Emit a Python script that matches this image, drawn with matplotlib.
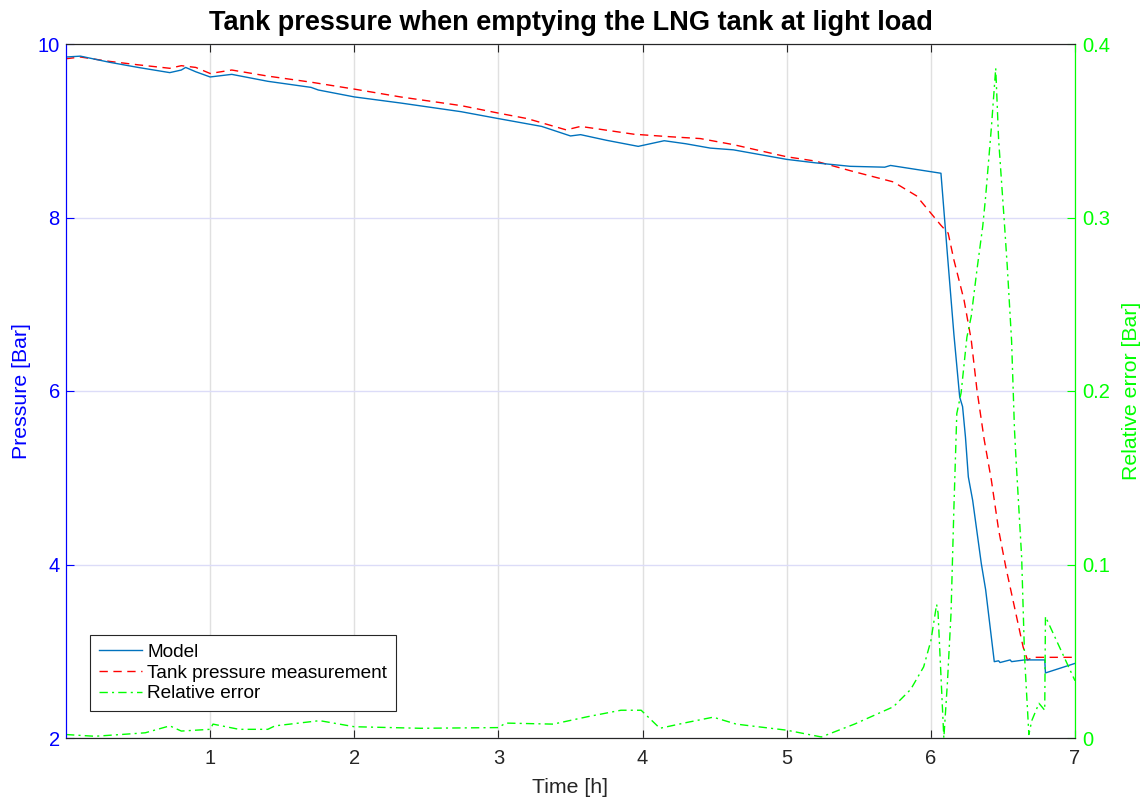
import matplotlib
matplotlib.use("Agg")
import matplotlib.pyplot as plt

plt.rcParams['font.family'] = ['Liberation Sans', 'DejaVu Sans']

# Model pressure [Bar]
t_model = [0, 0.1, 0.3, 0.5, 0.72, 0.8, 0.83, 0.9, 1.0, 1.15, 1.4, 1.7, 1.75, 2.0, 2.32,
           2.74, 3.0, 3.3, 3.5, 3.57, 3.75, 3.97, 4.15, 4.3, 4.47, 4.63, 5.0, 5.2, 5.44,
           5.68, 5.72, 6.07, 6.116, 6.16, 6.2, 6.22, 6.24, 6.26, 6.29, 6.35, 6.38, 6.44,
           6.47, 6.48, 6.55, 6.56, 6.65, 6.79, 6.795, 7.0]
p_model = [9.85, 9.86, 9.79, 9.73, 9.67, 9.70, 9.73, 9.68, 9.62, 9.65, 9.57, 9.50, 9.47, 9.39, 9.32,
           9.22, 9.14, 9.05, 8.94, 8.955, 8.89, 8.82, 8.885, 8.85, 8.80, 8.78, 8.67, 8.63, 8.59,
           8.58, 8.60, 8.51, 7.55, 6.65, 5.93, 5.82, 5.47, 5.01, 4.74, 4.01, 3.71, 2.88,
           2.89, 2.87, 2.90, 2.88, 2.90, 2.90, 2.75, 2.86]

# Tank pressure measurement [Bar]
t_meas = [0, 0.1, 0.3, 0.5, 0.72, 0.8, 0.9, 1.0, 1.15, 1.4, 1.7, 2.0, 2.32, 2.74, 3.01, 3.2,
          3.47, 3.57, 3.94, 4.2, 4.4, 4.63, 5.0, 5.2, 5.44, 5.74, 5.9, 6.0, 6.07, 6.12, 6.16,
          6.23, 6.28, 6.32, 6.37, 6.42, 6.47, 6.52, 6.58, 6.64, 6.67, 6.71, 7.0]
p_meas = [9.83, 9.85, 9.80, 9.76, 9.72, 9.75, 9.73, 9.66, 9.70, 9.63, 9.56, 9.48, 9.39, 9.29, 9.20, 9.14,
          9.01, 9.05, 8.96, 8.93, 8.91, 8.84, 8.70, 8.65, 8.54, 8.41, 8.25, 8.05, 7.91, 7.82, 7.51,
          7.05, 6.59, 6.01, 5.44, 4.97, 4.40, 3.97, 3.51, 3.05, 2.90, 2.93, 2.93]

# Relative error
t_err = [0, 0.2, 0.38, 0.55, 0.72, 0.8, 1.0, 1.02, 1.2, 1.4, 1.45, 1.76, 2.0, 2.46, 3.0, 3.05,
         3.38, 3.62, 3.85, 3.99, 4.12, 4.31, 4.49, 4.65, 5.0, 5.24, 5.47, 5.74, 5.86, 5.95, 6.0,
         6.04, 6.05, 6.09, 6.115, 6.14, 6.16, 6.18, 6.21, 6.25, 6.28, 6.32, 6.36, 6.38, 6.42,
         6.45, 6.47, 6.51, 6.53, 6.56, 6.58, 6.59, 6.63, 6.65, 6.68, 6.70, 6.75, 6.79, 6.795, 7.0]
e_err = [0.002, 0.001, 0.002, 0.003, 0.007, 0.004, 0.005, 0.008, 0.005, 0.005, 0.007, 0.010, 0.0065, 0.0056, 0.006, 0.0086,
         0.008, 0.0123, 0.016, 0.016, 0.0056, 0.009, 0.012, 0.008, 0.0045, 0.0006, 0.008, 0.018, 0.028, 0.041, 0.056,
         0.077, 0.072, 0.0, 0.032, 0.072, 0.133, 0.187, 0.199, 0.231, 0.243, 0.27, 0.295, 0.312, 0.352,
         0.386, 0.345, 0.297, 0.272, 0.229, 0.178, 0.162, 0.104, 0.047, 0.002, 0.010, 0.020, 0.016, 0.070, 0.033]

x_ticks = [1, 2, 3, 4, 5, 6, 7]
y_ticks = [2, 4, 6, 8, 10]
y2_ticks = [0, 0.1, 0.2, 0.3, 0.4]
y2_ticklabels = ['0', '0.1', '0.2', '0.3', '0.4']

fig = plt.figure(figsize=(11.44, 8.01), dpi=100)
ax = fig.add_axes([66/1144, 63/801, 1009/1144, 694/801])
ax2 = ax.twinx()

blue = '#0000FF'
green = '#00FF00'

l1, = ax.plot(t_model, p_model, color='#0072BD', lw=1.0, label='Model', zorder=3)
l2, = ax.plot(t_meas, p_meas, color='#FF0000', lw=1.0, ls=(0, (6, 4)), label='Tank pressure measurement', zorder=2)
l3, = ax2.plot(t_err, e_err, color=green, lw=1.0, ls=(0, (6, 3, 1.5, 3)), label='Relative error')

ax.set_xlim(0, 7)
ax.set_ylim(2, 10)
ax2.set_ylim(0, 0.4)
ax.set_xticks(x_ticks)
ax.set_yticks(y_ticks)
ax2.set_yticks(y2_ticks)
ax2.set_yticklabels(y2_ticklabels)

ax.grid(True, axis='x', color='#e0e0e0', lw=1)
ax.grid(True, axis='y', color='#dcdcf8', lw=1)
ax.set_axisbelow(True)

ax.tick_params(axis='x', direction='in', length=6, colors='#262626', labelsize=14.5, top=True, pad=8)
ax.tick_params(axis='y', direction='in', length=6, colors=blue, labelsize=14.5, pad=4.5)
ax2.tick_params(axis='y', direction='in', length=6, colors=green, labelsize=14.5, pad=5.5)

for a in (ax, ax2):
    a.spines['top'].set_color('#262626')
    a.spines['bottom'].set_color('#262626')
    a.spines['left'].set_color(blue)
    a.spines['right'].set_color(green)

ax.set_xlabel('Time [h]', fontsize=15.3, color='#262626', labelpad=7)
ax.set_ylabel('Pressure [Bar]', fontsize=15.3, color=blue, labelpad=5)
ax2.set_ylabel('Relative error [Bar]', fontsize=15.3, color=green, labelpad=8)
ax.set_title('Tank pressure when emptying the LNG tank at light load', fontsize=19.5, fontweight='bold', pad=10)

leg = ax2.legend(handles=[l1, l2, l3], loc='lower left', bbox_to_anchor=(0.0238, 0.039),
                 borderaxespad=0, fontsize=13.7, fancybox=False, framealpha=1,
                 edgecolor='#262626', handlelength=2.3, handletextpad=0.25,
                 labelspacing=0.18, borderpad=0.45)
leg.get_frame().set_linewidth(0.8)

fig.savefig('out.png', dpi=100)
